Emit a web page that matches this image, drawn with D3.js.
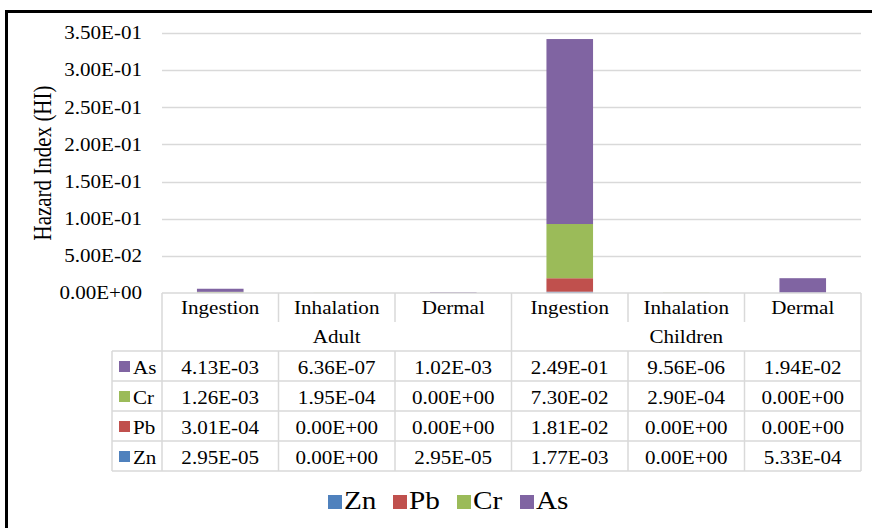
<!DOCTYPE html>
<html>
<head>
<meta charset="utf-8">
<script src="https://cdn.jsdelivr.net/npm/d3@7"></script>
<style>
  html, body { margin: 0; padding: 0; background: #fff; }
  svg text { font-family: "Liberation Serif", "Times New Roman", serif; fill: #000; }
</style>
</head>
<body>
<div id="chart"></div>
<script>
// Data
const groups = ['Adult', 'Children'];
const routes = ['Ingestion', 'Inhalation', 'Dermal', 'Ingestion', 'Inhalation', 'Dermal'];
const metals = ['Zn', 'Pb', 'Cr', 'As'];
const asVals = [4.13e-3, 6.36e-7, 1.02e-3, 2.49e-1, 9.56e-6, 1.94e-2];
const crVals = [1.26e-3, 1.95e-4, 0, 7.30e-2, 2.90e-4, 0];
const pbVals = [3.01e-4, 0, 0, 1.81e-2, 0, 0];
const znVals = [2.95e-5, 0, 2.95e-5, 1.77e-3, 0, 5.33e-4];
const yTicks = [0, 0.05, 0.10, 0.15, 0.20, 0.25, 0.30, 0.35];

const colors = { Zn: '#4F81BD', Pb: '#C0504D', Cr: '#9BBB59', As: '#8064A2' };
const seriesVals = { Zn: znVals, Pb: pbVals, Cr: crVals, As: asVals };

const rows = routes.map((r, i) => {
  const o = { idx: i, route: r };
  metals.forEach(m => { o[m] = seriesVals[m][i]; });
  return o;
});

// Excel style scientific label, e.g. 4.13E-03
function sci(v) {
  if (v === 0) return '0.00E+00';
  const [m, e] = v.toExponential(2).split('e');
  const n = +e;
  return m + 'E' + (n < 0 ? '-' : '+') + String(Math.abs(n)).padStart(2, '0');
}

// the source font is a little wider than Liberation Serif, so stretch text horizontally
const SX = 1.17;
function stretch(sel) {
  sel.each(function() {
    const t = d3.select(this);
    const x0 = +t.attr('x') || 0;
    t.attr('x', x0 / SX).attr('transform', `scale(${SX},1)`);
  });
}

const width = 872, height = 528;
const plot = { left: 162, right: 861, top: 33, bottom: 293 };
const rowH = 30;
const gridColor = '#D9D9D9';

const svg = d3.select('#chart').append('svg')
  .attr('width', width)
  .attr('height', height);

// outer frame (only top and left visible)
svg.append('rect')
  .attr('x', 6.5).attr('y', 11.5)
  .attr('width', width + 10).attr('height', height + 10)
  .attr('fill', '#fff')
  .attr('stroke', '#000')
  .attr('stroke-width', 3);

const y = d3.scaleLinear().domain([0, 0.35]).range([plot.bottom, plot.top]);
const col = d3.scaleBand().domain(d3.range(routes.length)).range([plot.left, plot.right]);
const x = d3.scaleBand().domain(d3.range(routes.length)).range([plot.left, plot.right])
  .paddingInner(0.6).paddingOuter(0.3);

// gridlines
svg.append('g').selectAll('line')
  .data(yTicks.slice(1))
  .join('line')
  .attr('x1', plot.left).attr('x2', plot.right)
  .attr('y1', d => Math.round(y(d)) + 0.5).attr('y2', d => Math.round(y(d)) + 0.5)
  .attr('stroke', gridColor).attr('stroke-width', 1.3);

// y axis labels
const yAxis = d3.axisLeft(y).tickValues(yTicks).tickSize(0).tickPadding(20).tickFormat(sci);
const ya = svg.append('g')
  .attr('transform', `translate(${plot.left},0)`)
  .call(yAxis);
ya.select('.domain').remove();
ya.selectAll('text')
  .attr('font-family', '"Liberation Serif", serif')
  .attr('font-size', 18)
  .attr('fill', '#000')
  .call(stretch);

svg.append('text')
  .attr('transform', `scale(${SX},1) translate(${51 / SX},163) rotate(-90)`)
  .attr('text-anchor', 'middle')
  .attr('font-size', 21)
  .text('Hazard Index (HI)');

// stacked bars
const stacked = d3.stack().keys(metals)(rows);
svg.append('g').selectAll('g')
  .data(stacked)
  .join('g')
  .attr('fill', d => colors[d.key])
  .selectAll('rect')
  .data(d => d)
  .join('rect')
  .attr('x', d => x(d.data.idx))
  .attr('width', x.bandwidth())
  .attr('y', d => y(d[1]))
  .attr('height', d => y(d[0]) - y(d[1]));

// data table
const tbl = svg.append('g').attr('stroke', gridColor).attr('stroke-width', 1.5);
const tTop = plot.bottom;
const headBottom = tTop + 2 * 29;
const tBottom = headBottom + metals.length * rowH;
const legendLeft = 112;

// horizontal lines
tbl.append('line').attr('x1', plot.left).attr('x2', plot.right).attr('y1', tTop).attr('y2', tTop);
d3.range(metals.length + 1).forEach(i => {
  tbl.append('line')
    .attr('x1', legendLeft).attr('x2', plot.right)
    .attr('y1', headBottom + i * rowH).attr('y2', headBottom + i * rowH);
});
// vertical lines
d3.range(routes.length + 1).forEach(i => {
  const xx = i < routes.length ? col(i) : plot.right;
  const full = (i === 0 || i === routes.length || i === 3);
  tbl.append('line')
    .attr('x1', xx).attr('x2', xx)
    .attr('y1', tTop).attr('y2', full ? tBottom : tTop + 29);
  if (!full) {
    tbl.append('line')
      .attr('x1', xx).attr('x2', xx)
      .attr('y1', headBottom).attr('y2', tBottom);
  }
});
tbl.append('line').attr('x1', legendLeft).attr('x2', legendLeft).attr('y1', headBottom).attr('y2', tBottom);

// header text
svg.append('g').selectAll('text')
  .data(routes)
  .join('text')
  .attr('x', (d, i) => col(i) + col.bandwidth() / 2)
  .attr('y', tTop + 21)
  .attr('text-anchor', 'middle')
  .attr('font-size', 18)
  .text(d => d)
  .call(stretch);

svg.append('g').selectAll('text')
  .data(groups)
  .join('text')
  .attr('x', (d, i) => col(i * 3) + col.bandwidth() * 1.5)
  .attr('y', tTop + 50)
  .attr('text-anchor', 'middle')
  .attr('font-size', 18)
  .text(d => d)
  .call(stretch);

// table rows: As, Cr, Pb, Zn top to bottom
const tableOrder = metals.slice().reverse();
tableOrder.forEach((m, r) => {
  const ry = headBottom + r * rowH;
  svg.append('rect')
    .attr('x', 119).attr('y', ry + 10)
    .attr('width', 11).attr('height', 11)
    .attr('fill', colors[m]);
  svg.append('text')
    .attr('x', 133).attr('y', ry + 23)
    .attr('font-size', 18)
    .text(m)
    .call(stretch);
  svg.append('g').selectAll('text')
    .data(seriesVals[m])
    .join('text')
    .attr('x', (d, i) => col(i) + col.bandwidth() / 2)
    .attr('y', ry + 23)
    .attr('text-anchor', 'middle')
    .attr('font-size', 18)
    .text(d => sci(d))
    .call(stretch);
});

// legend
const legendX = [328, 393, 457, 520];
const lg = svg.append('g').selectAll('g')
  .data(metals)
  .join('g')
  .attr('transform', (d, i) => `translate(${legendX[i]},495)`);
lg.append('rect').attr('width', 14).attr('height', 14).attr('fill', d => colors[d]);
lg.append('text').attr('x', 16).attr('y', 14).attr('font-size', 25).text(d => d).call(stretch);
</script>
</body>
</html>
